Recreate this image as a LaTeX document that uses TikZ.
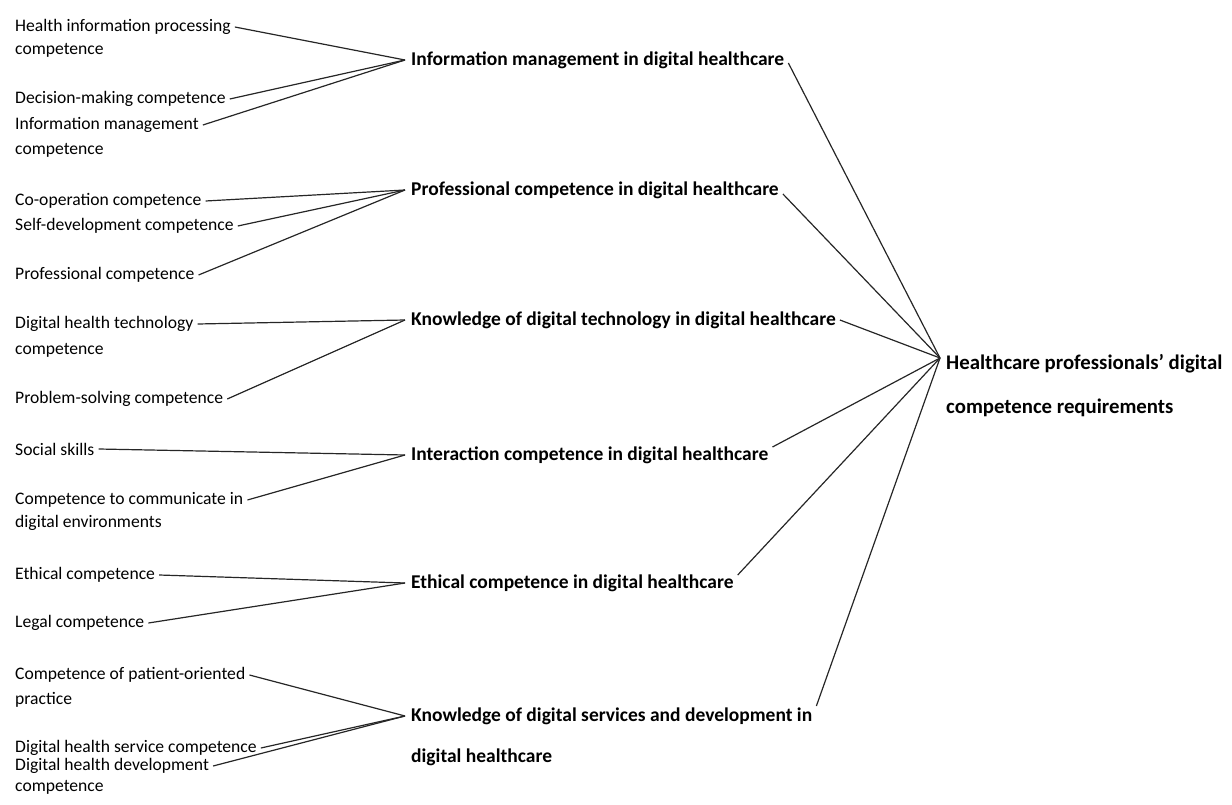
\documentclass[tikz,border=0pt]{standalone}
\usepackage{fontspec}
\setmainfont{Carlito}
\usetikzlibrary{positioning, calc}

\tikzset{
  sub/.style={anchor=west, inner sep=4pt, font=\fontsize{17.6}{20}\selectfont},
  grp/.style={anchor=west, inner sep=4pt, font=\fontsize{19.5}{22}\selectfont\bfseries},
  top/.style={anchor=west, inner sep=4pt, font=\fontsize{20.8}{24}\selectfont\bfseries},
  link/.style={line width=1.2pt, black!85},
}

\begin{document}
\begin{tikzpicture}[x=1pt, y=-1pt]
  \useasboundingbox (0,0) rectangle (1232,805);

  % hubs where the lines meet
  \coordinate (hInfo)  at (405,60);
  \coordinate (hProf)  at (405,190);
  \coordinate (hTech)  at (405,320);
  \coordinate (hInter) at (405,455);
  \coordinate (hEthic) at (405,583);
  \coordinate (hServ)  at (405,716);
  \coordinate (hReq)   at (940,358);

  % single competences (left column)
  \node[sub] (hip)     at (11,27)  {Health information processing};
  \node[sub] (hip2)    at (11,50)  {competence};
  \node[sub] (dm)      at (11,99)  {Decision-making competence};
  \node[sub] (im)      at (11,125) {Information management};
  \node[sub] (im2)     at (11,150) {competence};
  \node[sub] (coop)    at (11,201) {Co-operation competence};
  \node[sub] (selfdev) at (11,226) {Self-development competence};
  \node[sub] (prof)    at (11,275) {Professional competence};
  \node[sub] (dht)     at (11,324) {Digital health technology};
  \node[sub] (dht2)    at (11,350) {competence};
  \node[sub] (ps)      at (11,399) {Problem-solving competence};
  \node[sub] (social)  at (11,449) {Social skills};
  \node[sub] (comm)    at (11,500) {Competence to communicate in};
  \node[sub] (comm2)   at (11,523) {digital environments};
  \node[sub] (ethic)   at (11,575) {Ethical competence};
  \node[sub] (legal)   at (11,623) {Legal competence};
  \node[sub] (patient) at (11,675) {Competence of patient-oriented};
  \node[sub] (patient2) at (11,700) {practice};
  \node[sub] (dhs)     at (11,748) {Digital health service competence};
  \node[sub] (dhd)     at (11,766) {Digital health development};
  \node[sub] (dhd2)    at (11,787) {competence};

  % competence areas (middle column)
  \node[grp, right=2pt of hInfo]  (gInfo)  {Information management in digital healthcare};
  \node[grp, right=2pt of hProf]  (gProf)  {Professional competence in digital healthcare};
  \node[grp, right=2pt of hTech]  (gTech)  {Knowledge of digital technology in digital healthcare};
  \node[grp, right=2pt of hInter] (gInter) {Interaction competence in digital healthcare};
  \node[grp, right=2pt of hEthic] (gEthic) {Ethical competence in digital healthcare};
  \node[grp, right=2pt of hServ]  (gServ)  {Knowledge of digital services and development in};
  \node[grp] (gServ2) at (407,757) {digital healthcare};

  % requirements
  \node[top] (req)  at (942,364) {Healthcare professionals’ digital};
  \node[top] (req2) at (942,408) {competence requirements};

  \foreach \s/\h in {hip/hInfo, dm/hInfo, im/hInfo,
                     coop/hProf, selfdev/hProf, prof/hProf,
                     dht/hTech, ps/hTech,
                     social/hInter, comm/hInter,
                     ethic/hEthic, legal/hEthic,
                     patient/hServ, dhs/hServ, dhd/hServ}
    \draw[link] (\s.east) -- (\h);

  % lines to the requirements start a little off the text middle
  \foreach \g/\dy in {gInfo/-3, gProf/-4, gTech/0, gInter/8, gEthic/8, gServ/10}
    \draw[link] ([yshift=\dy pt]\g.east) -- (hReq);
\end{tikzpicture}
\end{document}
